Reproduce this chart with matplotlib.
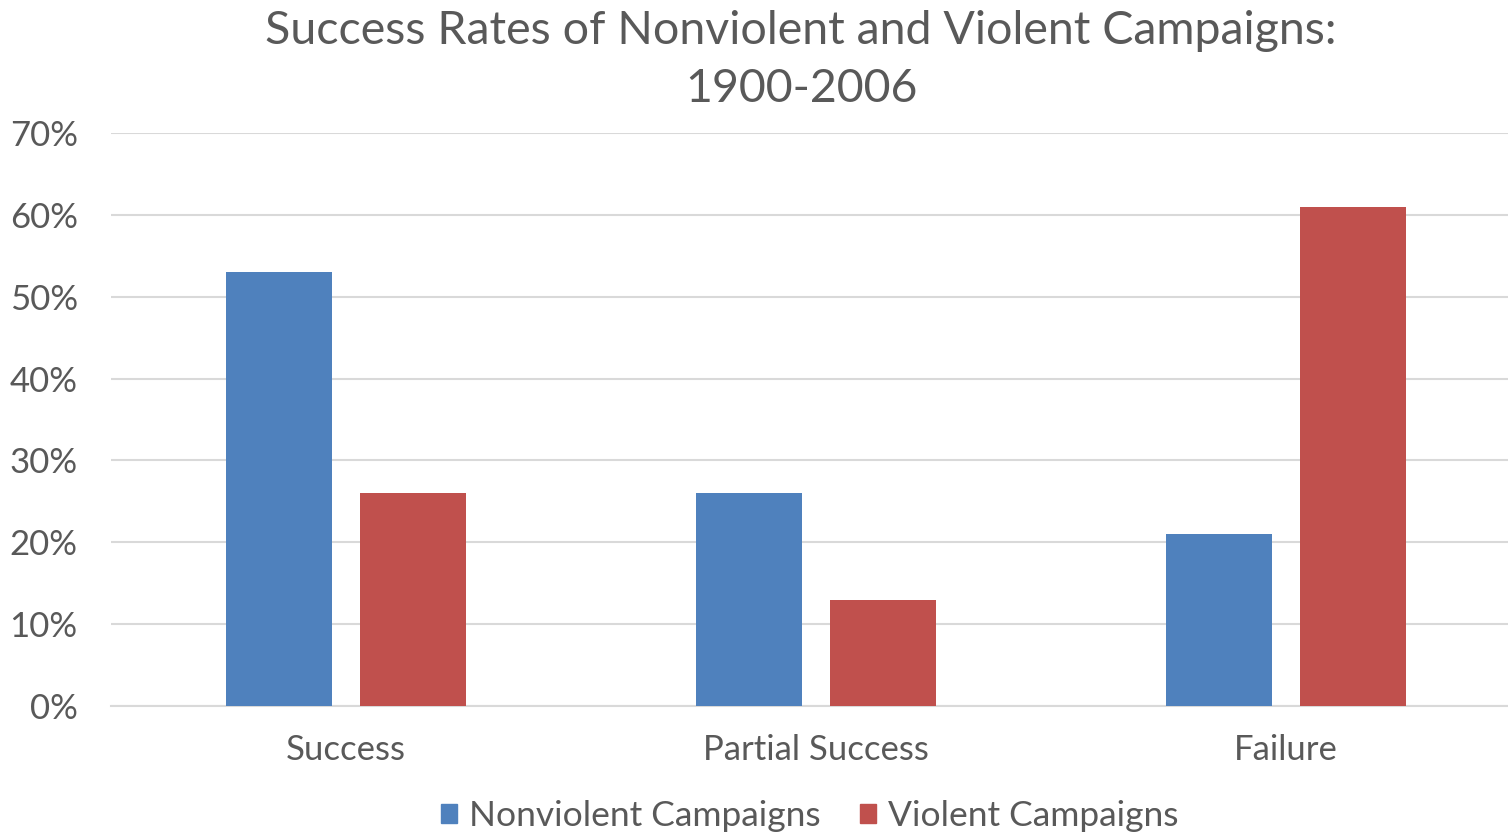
import matplotlib
matplotlib.use("Agg")
import matplotlib.pyplot as plt
import numpy as np
from matplotlib.patches import Patch

categories = ["Success", "Partial Success", "Failure"]
nonviolent = [53, 26, 21]
violent = [26, 13, 61]
yticks = [0, 10, 20, 30, 40, 50, 60, 70]
series_names = ["Nonviolent Campaigns", "Violent Campaigns"]

plt.rcParams['font.family'] = ['Lato', 'DejaVu Sans']
TXT = "#595959"
BLUE = "#4F81BD"
RED = "#C0504D"

W, H = 1508, 836
fig = plt.figure(figsize=(W/100, H/100), dpi=100)
ax = fig.add_axes([111/W, (H-706)/H, 1410/W, (706-133)/H])

x = np.arange(len(categories))
bw = 0.225
off = 0.1426
ax.bar(x - off, nonviolent, bw, color=BLUE, zorder=3)
ax.bar(x + off, violent, bw, color=RED, zorder=3)

ax.set_xlim(-0.5, 2.5)
ax.set_ylim(0, 70)
ax.set_yticks(yticks)
ax.set_yticklabels([f"{v}%" for v in yticks])
ax.set_xticks(x)
ax.set_xticklabels(categories)
ax.grid(axis='y', color="#d9d9d9", linewidth=1.5, zorder=0)
for s in ['top', 'right', 'left']:
    ax.spines[s].set_visible(False)
ax.spines['bottom'].set_color("#d9d9d9")
ax.spines['bottom'].set_linewidth(1.5)
ax.tick_params(axis='both', length=0, colors=TXT, labelsize=25)
ax.tick_params(axis='y', pad=24)
ax.tick_params(axis='x', pad=20)

fig.text(801/W, 1 - 60/H, "Success Rates of Nonviolent and Violent Campaigns:\n1900-2006",
         ha='center', va='center', fontsize=33.5, color=TXT, linespacing=1.45)

handles = [Patch(color=BLUE), Patch(color=RED)]
fig.legend(handles, series_names, loc='center', bbox_to_anchor=(810/W, 1 - 816/H),
           ncol=2, frameon=False, fontsize=25.5, labelcolor=TXT,
           handlelength=0.45, handleheight=0.45, handletextpad=0.35, columnspacing=1.1)

fig.savefig("out.png", dpi=100, facecolor="white")
